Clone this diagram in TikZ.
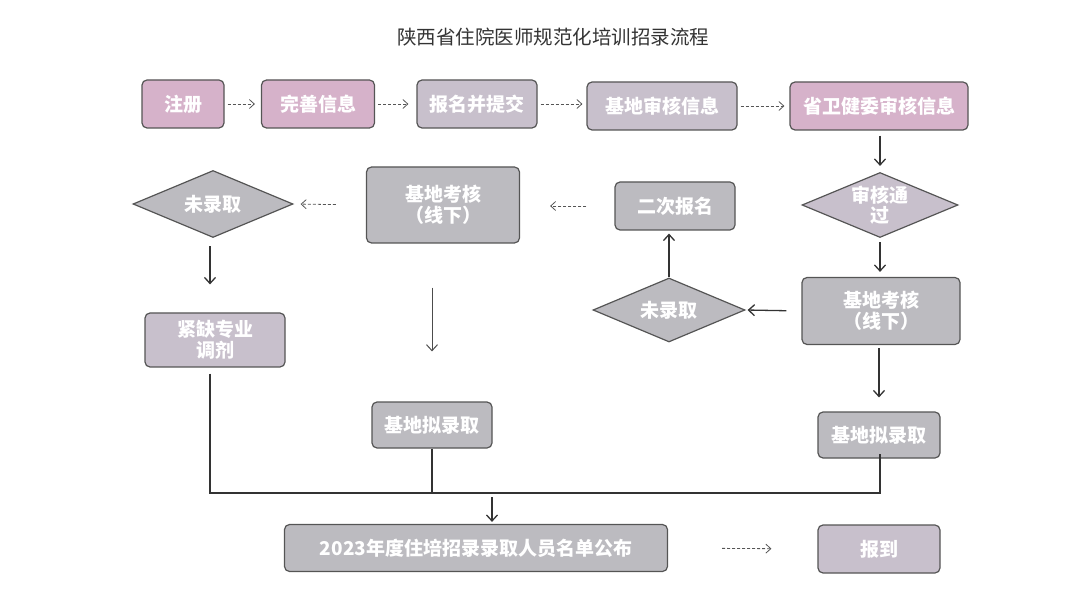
\documentclass[tikz,border=0pt]{standalone}
\usepackage{fontspec}
\newfontfamily\cjk{Noto Sans CJK SC}
\usetikzlibrary{shapes.geometric,arrows.meta}
\definecolor{pinkfill}{HTML}{D6B2CA}
\definecolor{lavfill}{HTML}{C8C0CC}
\definecolor{grayfill}{HTML}{BCBBC0}
\definecolor{edgecol}{HTML}{555555}
\definecolor{titlecol}{HTML}{333333}
\tikzset{
  box/.style={draw=edgecol, line width=1.2pt, rounded corners=5pt, fill=grayfill,
    text=white, font=\cjk\bfseries\fontsize{19}{21}\selectfont, align=center, inner sep=1pt},
  dia/.style={diamond, draw=edgecol, line width=1.2pt, fill=grayfill, aspect=2.4,
    text=white, font=\cjk\bfseries\fontsize{19}{20}\selectfont, align=center, inner sep=0pt},
  pinkbox/.style={fill=pinkfill},
  lavbox/.style={fill=lavfill},
  dotarrow/.style={draw=edgecol, densely dashed, line width=0.8pt, -{Straight Barb[length=5pt,width=9pt]}},
  solidarrow/.style={draw=black!80, line width=1.3pt, -{Straight Barb[length=6pt,width=11pt]}},
  joinline/.style={draw=black!80, line width=1.3pt},
}
\begin{document}
\begin{tikzpicture}[x=1pt,y=-1pt]
\useasboundingbox (0,0) rectangle (1068,593);
\node[font=\cjk\fontsize{19.5}{22}\selectfont, text=titlecol] (title) at (553,37) {陕西省住院医师规范化培训招录流程};
% row 1
\node[box,pinkbox,minimum width=82,minimum height=48] (zc) at (183,104) {注册};
\node[box,pinkbox,minimum width=113,minimum height=48] (ws) at (318,104) {完善信息};
\node[box,lavbox,minimum width=120,minimum height=48] (bm) at (477,104) {报名并提交};
\node[box,lavbox,minimum width=150,minimum height=48] (jdsh) at (662,106) {基地审核信息};
\node[box,pinkbox,minimum width=178,minimum height=48] (swjw) at (879,106) {省卫健委审核信息};
% row 2
\node[dia,minimum width=160,minimum height=67] (wlqL) at (213,204) {未录取};
\node[box,minimum width=153,minimum height=76] (khL) at (443,205) {基地考核\\（线下）};
\node[box,minimum width=120,minimum height=48] (ecbm) at (675,206) {二次报名};
\node[dia,lavbox,minimum width=156,minimum height=65] (shtg) at (880,205) {审核通\\过};
% row 3
\node[box,lavbox,minimum width=140,minimum height=54] (jq) at (215,340) {紧缺专业\\调剂};
\node[dia,minimum width=152,minimum height=64] (wlqM) at (669,310) {未录取};
\node[box,minimum width=158,minimum height=67] (khR) at (881,311) {基地考核\\（线下）};
% row 4
\node[box,minimum width=120,minimum height=46] (nlqM) at (432,425) {基地拟录取};
\node[box,minimum width=122,minimum height=46] (nlqR) at (879,435) {基地拟录取};
% row 5
\node[box,minimum width=383,minimum height=47] (gb) at (476,548) {2023年度住培招录录取人员名单公布};
\node[box,lavbox,minimum width=122,minimum height=48] (bd) at (879,549) {报到};
% junction coordinates
\coordinate (jL) at (210,493);
\coordinate (jM) at (432,493);
\coordinate (jR) at (880,493);
\coordinate (jA) at (492,493);
% row 1 arrows
\draw[dotarrow, shorten <=3pt, shorten >=6pt] (zc) -- (ws);
\draw[dotarrow, shorten <=3pt, shorten >=8pt] (ws) -- (bm);
\draw[dotarrow, shorten <=3pt, shorten >=4pt] (bm.east) -- (jdsh.west |- bm.east);
\draw[dotarrow, shorten <=3pt, shorten >=5pt] (jdsh) -- (swjw);
% row 2 arrows
\draw[dotarrow, shorten <=30pt, shorten >=7pt] (khL.west) -- (wlqL.east);
\draw[dotarrow, shorten <=28pt, shorten >=30pt] (ecbm.west) -- (khL.east |- ecbm.west);
\draw[solidarrow, shorten <=5pt, shorten >=6pt] (swjw.south -| shtg.north) -- (shtg.north);
\draw[solidarrow, shorten <=4pt, shorten >=5pt] (shtg.south) -- (khR.north -| shtg.south);
\draw[solidarrow, shorten <=15pt, shorten >=2pt] (khR.west) -- (wlqM.east);
\draw[solidarrow, shorten >=3pt] (wlqM.north) -- (ecbm.south -| wlqM.north);
\draw[solidarrow, shorten <=3pt, shorten >=14pt] (khR.south -| nlqR.north) -- (nlqR.north);
\draw[solidarrow, shorten <=8pt, shorten >=28pt] (wlqL.south -| jL) -- (jq.north -| jL);
\draw[solidarrow, draw=black!70, line width=1pt, shorten <=44pt, shorten >=50pt] (khL.south -| nlqM.north) -- (nlqM.north);
% join lines
\draw[joinline] (jq.south -| jL) ++(0,6) -- (jL) -- (jR) -- ([yshift=5pt]nlqR.south -| jR);
\draw[joinline] (nlqM.south) -- (jM);
\draw[solidarrow, shorten <=4pt, shorten >=2pt] (jA) -- (gb.north -| jA);
% bottom arrow
\draw[dotarrow, shorten <=54pt, shorten >=46pt] (gb.east) -- (bd.west);
\end{tikzpicture}
\end{document}
